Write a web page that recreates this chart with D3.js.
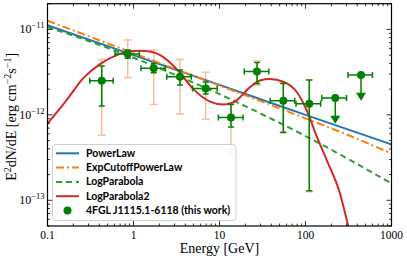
<!DOCTYPE html>
<html>
<head>
<meta charset="utf-8">
<script src="https://cdn.jsdelivr.net/npm/d3@7"></script>
<style>
  body { margin: 0; background: #fff; }
  svg { display: block; }
</style>
</head>
<body>
<div id="chart"></div>
<script>
// flux points (E^2 dN/dE, erg cm^-2 s^-1)
var energy  = [0.427, 0.857, 1.72, 3.47, 6.91, 13.6, 27.3, 55.2, 110.7, 222, 442];
var eLow    = [0.31, 0.61, 1.22, 2.44, 4.86, 9.7, 19.4, 38.8, 77.6, 155, 312];
var eHigh   = [0.58, 1.17, 2.35, 4.7, 9.4, 18.8, 37.5, 75, 150, 300, 600];
var flux    = [2.50e-12, 5.14e-12, 3.50e-12, 2.79e-12, 2.04e-12, 9.3e-13, 3.22e-12, 1.46e-12, 1.35e-12, 1.57e-12, 2.92e-12];
var fluxLo  = [1.27e-12, 4.61e-12, 3.12e-12, 2.23e-12, 1.75e-12, 7.2e-13, 2.33e-12, 6.27e-13, 1.29e-13, null, null];
var fluxHi  = [3.72e-12, 5.73e-12, 3.98e-12, 3.34e-12, 2.42e-12, 1.32e-12, 4.11e-12, 2.33e-12, 2.55e-12, null, null];
var sysLo   = [5.78e-13, 2.74e-12, 1.32e-12, 1.02e-12, 8.9e-13, 3.5e-13, 2.23e-12, 6.1e-13, 1.26e-13, null, null];
var sysHi   = [4.46e-12, 7.5e-12, 5.73e-12, 4.46e-12, 3.16e-12, 1.37e-12, 4.26e-12, 2.38e-12, 2.58e-12, null, null];
var isUL    = [false, false, false, false, false, false, false, false, false, true, true];

// model curves
var plE   = [0.1, 1, 10, 100, 1000];
var plF   = [1.12e-11, 5.0e-12, 2.24e-12, 1.0e-12, 4.5e-13];
var ecplE = [0.1, 0.3, 1, 3, 10, 30, 100, 300, 1000];
var ecplF = [1.265e-11, 8.34e-12, 5.27e-12, 3.47e-12, 2.20e-12, 1.45e-12, 9.1e-13, 5.9e-13, 3.53e-13];
var lpE   = [0.1, 0.316, 1, 3.16, 10, 31.6, 100, 316, 1000];
var lpF   = [1.067e-11, 7.18e-12, 4.66e-12, 2.90e-12, 1.75e-12, 1.01e-12, 5.65e-13, 3.03e-13, 1.57e-13];
var lp2E  = [0.1, 0.167, 0.261, 0.407, 0.638, 0.91, 1.19, 1.56, 2.22, 3.18, 4.96, 7.76, 11.1, 15.9, 22.6, 29.6, 38.7, 55.2, 79.1, 103, 135, 177, 252, 315, 430];
var lp2F  = [7.9e-13, 1.49e-12, 2.69e-12, 3.93e-12, 5.01e-12, 5.57e-12, 5.62e-12, 5.51e-12, 4.74e-12, 3.43e-12, 2.00e-12, 1.43e-12, 1.32e-12, 1.49e-12, 2.11e-12, 2.52e-12, 2.62e-12, 2.44e-12, 1.85e-12, 1.14e-12, 5.6e-13, 2.94e-13, 1.20e-13, 4.95e-14, 1.73e-14];

var xTicks = [0.1, 1, 10, 100, 1000];
var xTickLabels = ["0.1", "1", "10", "100", "1000"];
var yTicks = [1e-13, 1e-12, 1e-11];
var yTickExp = ["\u221213", "\u221212", "\u221211"];

var legendNames = ["PowerLaw", "ExpCutoffPowerLaw", "LogParabola", "LogParabola2", "4FGL J1115.1-6118 (this work)"];

var W = 407, H = 258;
var pL = 47.5, pR = 391.5, pT = 3.7, pB = 226;

var svg = d3.select("#chart").append("svg")
  .attr("width", W)
  .attr("height", H);

var x = d3.scaleLog().domain([0.1, 1000]).range([pL, pR]);
var y = d3.scaleLog().domain([5e-14, 2e-11]).range([pB, pT]);

svg.append("defs").append("clipPath").attr("id", "clip")
  .append("rect")
  .attr("x", pL).attr("y", pT)
  .attr("width", pR - pL).attr("height", pB - pT);

var plot = svg.append("g").attr("clip-path", "url(#clip)");

// systematic error bars (light)
var peach = "#f6bfa3";
energy.forEach(function(e, i) {
  if (isUL[i]) return;
  var cx = x(e);
  plot.append("line")
    .attr("x1", cx).attr("x2", cx)
    .attr("y1", y(sysHi[i])).attr("y2", y(sysLo[i]))
    .attr("stroke", peach).attr("stroke-width", 1.5);
  [sysHi[i], sysLo[i]].forEach(function(v) {
    plot.append("line")
      .attr("x1", cx - 4).attr("x2", cx + 4)
      .attr("y1", y(v)).attr("y2", y(v))
      .attr("stroke", peach).attr("stroke-width", 1.5);
  });
});

// model lines
var line = d3.line()
  .x(function(d) { return x(d[0]); })
  .y(function(d) { return y(d[1]); })
  .curve(d3.curveMonotoneX);

function zip(a, b) { return a.map(function(v, i) { return [v, b[i]]; }); }

var models = [
  {e: plE, f: plF, color: "#1f77b4", dash: null},
  {e: ecplE, f: ecplF, color: "#ff7f0e", dash: "8,3,2,3"},
  {e: lpE, f: lpF, color: "#2ca02c", dash: "6,4"},
  {e: lp2E, f: lp2F, color: "#d62728", dash: null}
];

models.forEach(function(m) {
  plot.append("path")
    .datum(zip(m.e, m.f))
    .attr("d", line)
    .attr("fill", "none")
    .attr("stroke", m.color)
    .attr("stroke-width", 2)
    .attr("stroke-dasharray", m.dash);
});

// data points
var green = "#008000";
energy.forEach(function(e, i) {
  var cx = x(e), cy = y(flux[i]);
  var g = plot.append("g");
  g.append("line")
    .attr("x1", x(eLow[i])).attr("x2", x(eHigh[i]))
    .attr("y1", cy).attr("y2", cy)
    .attr("stroke", green).attr("stroke-width", 1.5);
  [eLow[i], eHigh[i]].forEach(function(v) {
    g.append("line")
      .attr("x1", x(v)).attr("x2", x(v))
      .attr("y1", cy - 3).attr("y2", cy + 3)
      .attr("stroke", green).attr("stroke-width", 1.5);
  });
  if (isUL[i]) {
    var yEnd = y(flux[i] / 2);
    g.append("line")
      .attr("x1", cx).attr("x2", cx)
      .attr("y1", cy).attr("y2", yEnd - 6)
      .attr("stroke", green).attr("stroke-width", 1.5);
    g.append("path")
      .attr("d", "M" + (cx - 5) + "," + (yEnd - 8) + "L" + (cx + 5) + "," + (yEnd - 8) + "L" + cx + "," + yEnd + "Z")
      .attr("fill", green);
  } else {
    g.append("line")
      .attr("x1", cx).attr("x2", cx)
      .attr("y1", y(fluxHi[i])).attr("y2", y(fluxLo[i]))
      .attr("stroke", green).attr("stroke-width", 1.5);
    [fluxHi[i], fluxLo[i]].forEach(function(v) {
      g.append("line")
        .attr("x1", cx - 3).attr("x2", cx + 3)
        .attr("y1", y(v)).attr("y2", y(v))
        .attr("stroke", green).attr("stroke-width", 1.5);
    });
  }
  g.append("circle")
    .attr("cx", cx).attr("cy", cy).attr("r", 4)
    .attr("fill", green);
});

// ticks, inward on all sides
var axes = svg.append("g").attr("stroke", "#000").attr("stroke-width", 0.8);
var xMinor = [], yMinor = [];
[0.1, 1, 10, 100].forEach(function(d) {
  for (var k = 2; k <= 9; k++) xMinor.push(d * k);
});
[1e-14, 1e-13, 1e-12, 1e-11].forEach(function(d) {
  for (var k = 2; k <= 9; k++) {
    var v = d * k;
    if (v >= 5e-14 && v <= 2e-11) yMinor.push(v);
  }
});
function tickX(v, len) {
  axes.append("line").attr("x1", x(v)).attr("x2", x(v)).attr("y1", pB).attr("y2", pB - len);
  axes.append("line").attr("x1", x(v)).attr("x2", x(v)).attr("y1", pT).attr("y2", pT + len);
}
function tickY(v, len) {
  axes.append("line").attr("y1", y(v)).attr("y2", y(v)).attr("x1", pL).attr("x2", pL + len);
  axes.append("line").attr("y1", y(v)).attr("y2", y(v)).attr("x1", pR).attr("x2", pR - len);
}
xTicks.forEach(function(v) { tickX(v, 5); });
xMinor.forEach(function(v) { tickX(v, 2.5); });
yTicks.forEach(function(v) { tickY(v, 5); });
yMinor.forEach(function(v) { tickY(v, 2.5); });

svg.append("rect")
  .attr("x", pL).attr("y", pT)
  .attr("width", pR - pL).attr("height", pB - pT)
  .attr("fill", "none").attr("stroke", "#000").attr("stroke-width", 1.2);

var serif = "'Liberation Serif', 'DejaVu Serif', serif";

svg.selectAll(".xlab").data(xTicks).enter().append("text")
  .attr("x", function(d) { return x(d); })
  .attr("y", pB + 12.5)
  .attr("text-anchor", "middle")
  .attr("font-family", serif)
  .attr("font-size", 11.5)
  .text(function(d, i) { return xTickLabels[i]; });

yTicks.forEach(function(v, i) {
  var t = svg.append("text")
    .attr("x", pL - 3)
    .attr("y", y(v) + 4)
    .attr("text-anchor", "end")
    .attr("font-family", serif)
    .attr("font-size", 12);
  t.append("tspan").text("10");
  t.append("tspan").attr("dy", -5).attr("font-size", 8.5).text(yTickExp[i]);
});

svg.append("text")
  .attr("x", (pL + pR) / 2)
  .attr("y", 252.5)
  .attr("text-anchor", "middle")
  .attr("font-family", serif)
  .attr("font-size", 14)
  .text("Energy [GeV]");

var yl = svg.append("text")
  .attr("transform", "translate(16," + ((pT + pB) / 2 + 2) + ") rotate(-90)")
  .attr("text-anchor", "middle")
  .attr("font-family", serif)
  .attr("font-size", 14);
yl.append("tspan").text("E");
yl.append("tspan").attr("dy", -5).attr("font-size", 10).text("2");
yl.append("tspan").attr("dy", 5).text("dN/dE [erg cm");
yl.append("tspan").attr("dy", -5).attr("font-size", 10).text("\u22122");
yl.append("tspan").attr("dy", 5).text("s");
yl.append("tspan").attr("dy", -5).attr("font-size", 10).text("\u22121");
yl.append("tspan").attr("dy", 5).text("]");

// legend
var lg = svg.append("g");
lg.append("rect")
  .attr("x", 52.5).attr("y", 144.5)
  .attr("width", 183.5).attr("height", 76)
  .attr("rx", 3)
  .attr("fill", "#fff").attr("fill-opacity", 0.85)
  .attr("stroke", "#d0d0d0").attr("stroke-width", 1);

var rowY = [153.3, 167.6, 181.9, 196.2, 210.5];
legendNames.forEach(function(name, i) {
  if (i < 4) {
    lg.append("line")
      .attr("x1", 56).attr("x2", 79)
      .attr("y1", rowY[i]).attr("y2", rowY[i])
      .attr("stroke", models[i].color)
      .attr("stroke-width", 2)
      .attr("stroke-dasharray", models[i].dash);
  } else {
    lg.append("circle").attr("cx", 67.5).attr("cy", rowY[i]).attr("r", 4).attr("fill", green);
  }
  lg.append("text")
    .attr("x", 86)
    .attr("y", rowY[i] + 3.5)
    .attr("font-family", "Lato, 'DejaVu Sans', sans-serif")
    .attr("font-weight", "bold")
    .attr("font-size", 10.5)
    .text(name);
});
</script>
</body>
</html>
